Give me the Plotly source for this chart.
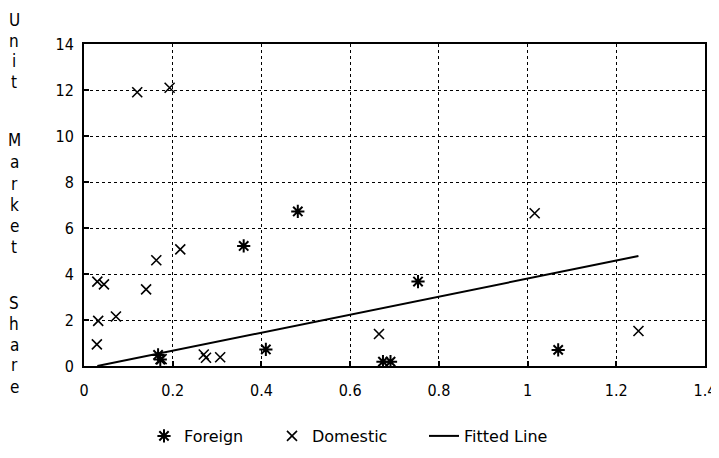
import plotly.graph_objects as go

# Data
foreign_x = [0.482, 0.360, 0.167, 0.172, 0.410, 0.753, 0.674, 0.691, 1.069]
foreign_y = [6.72, 5.22, 0.48, 0.28, 0.72, 3.67, 0.19, 0.19, 0.70]

domestic_x = [0.120, 0.193, 0.217, 0.163, 0.030, 0.045, 0.140, 0.032, 0.072, 0.029,
              0.175, 0.270, 0.275, 0.307, 1.016, 0.665, 1.250]
domestic_y = [11.9, 12.1, 5.07, 4.6, 3.67, 3.55, 3.33, 1.96, 2.15, 0.94,
              0.30, 0.50, 0.36, 0.38, 6.64, 1.39, 1.52]

fit_x = [0.03, 1.25]
fit_y = [0.0, 4.78]

x_ticks = [0, 0.2, 0.4, 0.6, 0.8, 1, 1.2, 1.4]
x_labels = ["0", "0.2", "0.4", "0.6", "0.8", "1", "1.2", "1.4"]
y_ticks = [0, 2, 4, 6, 8, 10, 12, 14]
y_labels = ["0", "2", "4", "6", "8", "10", "12", "14"]

y_title = "Unit Market Share"

# the page body has an 8px margin, so the figure is sized to fill the rest
OFF = 8
W, H = 719 - OFF, 458 - OFF
FONT = "DejaVu Sans Condensed, Liberation Sans Narrow, DejaVu Sans, sans-serif"
LFONT = "DejaVu Sans, Liberation Sans, sans-serif"

fig = go.Figure()
fig.add_trace(go.Scatter(
    x=foreign_x, y=foreign_y, mode="markers", name="Foreign",
    marker=dict(symbol="asterisk", size=11, color="black",
                line=dict(color="black", width=2)),
    legend="legend"))
fig.add_trace(go.Scatter(
    x=domestic_x, y=domestic_y, mode="markers", name="Domestic",
    marker=dict(symbol="x-thin", size=10, color="black",
                line=dict(color="black", width=1.6)),
    legend="legend2"))
fig.add_trace(go.Scatter(
    x=fit_x, y=fit_y, mode="lines", name="Fitted Line",
    line=dict(color="black", width=2),
    legend="legend3"))

axis_common = dict(
    showline=True, linecolor="black", linewidth=2, mirror=True,
    showgrid=True, gridcolor="black", gridwidth=1, griddash="dot",
    ticks="inside", ticklen=5, tickcolor="black", tickwidth=1.5,
    zeroline=False, automargin=False,
    tickfont=dict(family=FONT, size=16, color="black"),
)

fig.update_xaxes(range=[0, 1.4], tickvals=x_ticks, ticktext=x_labels,
                 ticklabelstandoff=9, **axis_common)
fig.update_yaxes(range=[0, 14], tickvals=y_ticks, ticktext=y_labels,
                 ticklabelstandoff=5, **axis_common)

leg_common = dict(orientation="h", yanchor="middle", y=1 - (436 - OFF) / H,
                  xanchor="left", xref="container", yref="container",
                  font=dict(family=LFONT, size=16, color="black"),
                  bgcolor="rgba(0,0,0,0)", itemwidth=30)
fig.update_layout(
    width=W, height=H,
    margin=dict(l=84 - OFF, r=14, t=44 - OFF, b=92, autoexpand=False),
    plot_bgcolor="white", paper_bgcolor="white",
    showlegend=True,
    legend=dict(x=(144 - OFF) / W, **leg_common),
    legend2=dict(x=(272 - OFF) / W, **leg_common),
    legend3=dict(x=(424 - OFF) / W, **leg_common),
)

# vertical stacked axis title, one letter per row
title_font = dict(family=FONT, size=17, color="black")
row_y = {"Unit": [20, 41, 61, 82], "Market": [140, 162, 184, 205, 226, 247],
         "Share": [303, 324, 345, 365, 387]}
for word in y_title.split(" "):
    for ch, yc in zip(word, row_y[word]):
        fig.add_annotation(
            text=ch, xref="paper", yref="paper",
            x=(14 - 84) / 621, y=(366 - yc) / 322, xanchor="center", yanchor="middle",
            showarrow=False, font=title_font)

fig.write_html("out.html")
